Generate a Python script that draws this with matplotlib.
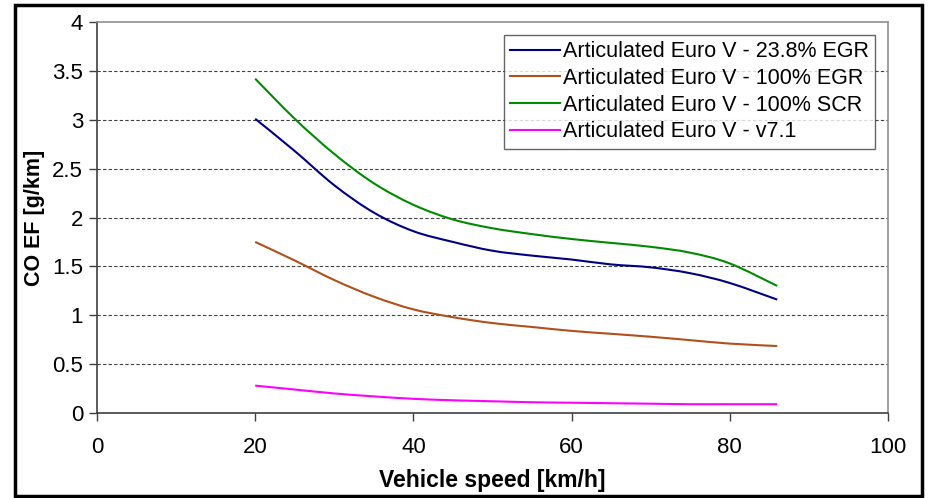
import matplotlib.pyplot as plt
from matplotlib.patches import Rectangle, PathPatch
from matplotlib.path import Path
from matplotlib.lines import Line2D

plt.rcParams['font.family'] = ['Liberation Sans', 'DejaVu Sans']

speed = [20, 25, 30, 35, 40, 45, 50, 55, 60, 65, 70, 75, 80, 86]

egr_238 = [3.01, 2.68, 2.33, 2.05, 1.86, 1.75, 1.66, 1.61, 1.57, 1.52, 1.49, 1.43, 1.33, 1.16]
egr_100 = [1.75, 1.56, 1.36, 1.19, 1.06, 0.98, 0.92, 0.88, 0.84, 0.81, 0.78, 0.745, 0.71, 0.685]
scr_100 = [3.42, 3.01, 2.65, 2.35, 2.13, 1.98, 1.89, 1.83, 1.78, 1.74, 1.70, 1.64, 1.53, 1.30]
v71 = [0.28, 0.24, 0.20, 0.17, 0.145, 0.13, 0.12, 0.11, 0.105, 0.10, 0.095, 0.09, 0.09, 0.09]

labels = ["Articulated Euro V - 23.8% EGR",
          "Articulated Euro V - 100% EGR",
          "Articulated Euro V - 100% SCR",
          "Articulated Euro V - v7.1"]
colors = ["#000080", "#b0501a", "#008a00", "#ff00ff"]


def smooth_path(xs, ys):
    # Excel-style smoothed line: Catmull-Rom segments as cubic Beziers
    verts = [(xs[0], ys[0])]
    codes = [Path.MOVETO]
    n = len(xs)
    for i in range(n - 1):
        x0, y0 = (xs[i - 1], ys[i - 1]) if i > 0 else (xs[i], ys[i])
        x1, y1 = xs[i], ys[i]
        x2, y2 = xs[i + 1], ys[i + 1]
        x3, y3 = (xs[i + 2], ys[i + 2]) if i + 2 < n else (x2, y2)
        c1 = (x1 + (x2 - x0) / 6, y1 + (y2 - y0) / 6)
        c2 = (x2 - (x3 - x1) / 6, y2 - (y3 - y1) / 6)
        verts += [c1, c2, (x2, y2)]
        codes += [Path.CURVE4] * 3
    return Path(verts, codes)


fig = plt.figure(figsize=(9.3, 4.98), dpi=100)
ax = fig.add_axes([0.1043, 0.1707, 0.8505, 0.7851])

handles = []
for ys, lab, c in zip([egr_238, egr_100, scr_100, v71], labels, colors):
    ax.add_patch(PathPatch(smooth_path(speed, ys), facecolor="none",
                           edgecolor=c, lw=1.5, zorder=3))
    handles.append(Line2D([], [], color=c, lw=1.5, label=lab))

ax.set_xlim(0, 100)
ax.set_ylim(0, 4)
ax.set_xticks([0, 20, 40, 60, 80, 100])
ax.set_yticks([0, 0.5, 1, 1.5, 2, 2.5, 3, 3.5, 4])
ax.set_yticklabels(["0", "0.5", "1", "1.5", "2", "2.5", "3", "3.5", "4"])

for v in [0.5, 1, 1.5, 2, 2.5, 3, 3.5]:
    ax.axhline(v, color="#404040", lw=0.8, ls=(0, (3, 2)), zorder=0)

for s in ["left", "bottom"]:
    ax.spines[s].set_color("#404040")
    ax.spines[s].set_linewidth(1.2)
for s in ["top", "right"]:
    ax.spines[s].set_color("#909090")
    ax.spines[s].set_linewidth(1.2)

ax.tick_params(direction="out", length=6, width=1, color="#404040",
               labelsize=16, pad=4)
ax.tick_params(axis="x", pad=11)

ax.set_xlabel("Vehicle speed [km/h]", fontsize=16.5, fontweight="bold", labelpad=8)
ax.set_ylabel("CO EF [g/km]", fontsize=15.5, fontweight="bold", labelpad=5)

leg = ax.legend(handles=handles, loc="upper right", bbox_to_anchor=(0.984, 0.967),
                fontsize=15.5, frameon=True, fancybox=False, handlelength=2.3,
                handletextpad=0.15, borderpad=0.3, labelspacing=0.26, borderaxespad=0)
leg.get_frame().set_edgecolor("#404040")
leg.get_frame().set_linewidth(1.0)

fig.patches.append(Rectangle((15 / 930, 2 / 498), 907 / 930, 491 / 498,
                             transform=fig.transFigure, fill=False,
                             edgecolor="black", linewidth=2.5))

fig.savefig("out.png", dpi=100)
